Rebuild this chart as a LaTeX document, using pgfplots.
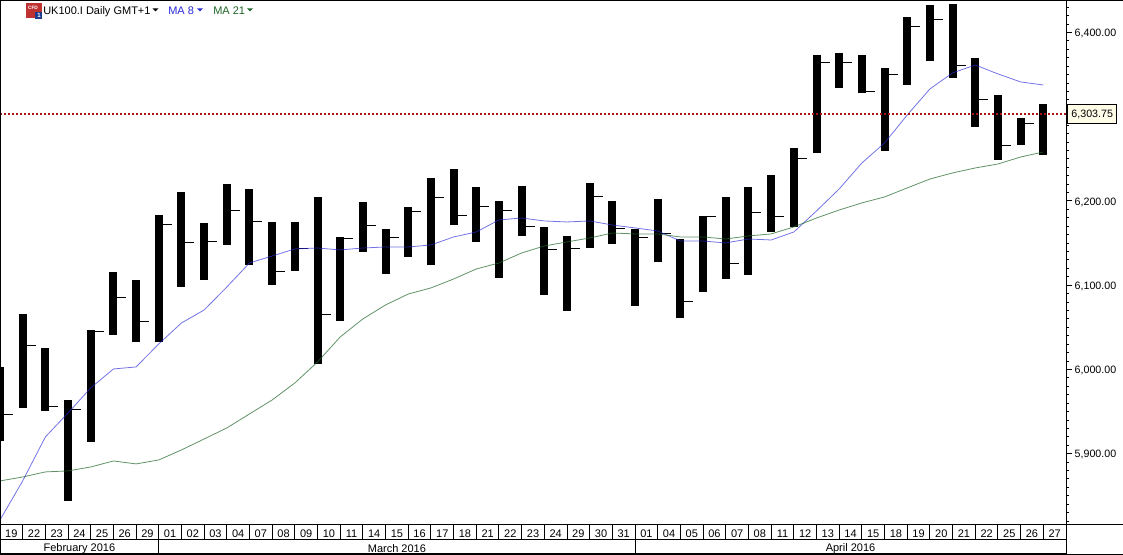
\documentclass[border=0pt]{standalone}
\usepackage{fontspec}
\setmainfont{Liberation Sans}
\usepackage{pgfplots}
\usepackage{pgfplotstable}
\pgfplotsset{compat=1.18}

% one screen pixel = 0.75pt
\definecolor{maeight}{RGB}{40,40,215}
\definecolor{matwentyone}{RGB}{30,100,40}
\definecolor{lastred}{RGB}{170,20,20}
\definecolor{labelbg}{RGB}{255,253,232}
\definecolor{iconred}{RGB}{190,50,50}
\definecolor{iconblue}{RGB}{30,60,140}

\pgfplotstableread{
i  high    low     close   ma8     ma21
0  6003.0  5915.2  5946.0  5821.4  5867.7
1  6065.9  5954.3  6027.9  5867.7  5872.4
2  6025.5  5950.8  5956.1  5919.9  5878.4
3  5963.8  5843.9  5952.0  5948.4  5879.6
4  6046.9  5914.0  6045.1  5978.1  5884.3
5  6115.8  6041.0  6084.9  6000.6  5891.4
6  6106.3  6032.7  6056.4  6003.0  5887.9
7  6183.4  6032.7  6171.5  6030.3  5892.6
8  6210.7  6097.9  6150.2  6055.2  5904.5
9  6173.9  6106.3  6152.5  6070.6  5917.5
10 6220.2  6147.8  6188.2  6097.9  5930.6
11 6214.3  6124.1  6175.1  6126.4  5947.2
12 6175.1  6100.3  6115.8  6134.7  5963.8
13 6175.1  6116.9  6143.1  6143.1  5984.0
14 6204.8  6006.6  6064.7  6144.2  6008.9
15 6157.3  6057.6  6154.9  6141.9  6038.6
16 6198.8  6139.5  6170.4  6144.2  6060.0
17 6166.8  6113.4  6156.1  6145.4  6076.6
18 6192.9  6133.6  6187.0  6145.4  6089.6
19 6227.3  6124.1  6203.6  6147.8  6096.8
20 6238.0  6171.5  6182.2  6157.3  6107.4
21 6216.6  6151.4  6192.9  6163.2  6119.3
22 6200.0  6108.6  6188.2  6177.5  6126.4
23 6217.8  6158.5  6169.2  6179.8  6138.3
24 6169.2  6088.5  6141.9  6176.3  6146.6
25 6158.5  6069.5  6143.1  6175.1  6151.4
26 6221.4  6144.2  6204.8  6176.3  6156.1
27 6200.0  6149.0  6166.8  6171.5  6162.0
28 6166.8  6075.4  6156.1  6168.0  6160.9
29 6202.4  6127.6  6160.9  6164.4  6160.9
30 6154.9  6061.2  6080.2  6152.5  6157.3
31 6182.2  6092.0  6181.0  6152.5  6157.3
32 6204.8  6107.4  6125.3  6150.2  6154.9
33 6216.6  6112.2  6185.8  6154.9  6158.5
34 6230.9  6163.2  6181.0  6153.7  6160.9
35 6262.9  6169.2  6249.9  6163.2  6169.2
36 6373.3  6257.0  6363.8  6188.2  6179.8
37 6375.7  6334.1  6363.8  6214.3  6189.3
38 6373.3  6328.2  6329.4  6245.1  6197.7
39 6357.9  6259.4  6349.6  6268.9  6204.8
40 6418.4  6337.7  6406.6  6302.1  6215.5
41 6432.7  6366.2  6416.0  6333.0  6226.1
42 6433.9  6346.0  6360.3  6352.0  6233.3
43 6369.8  6287.9  6319.9  6361.4  6239.2
44 6325.8  6248.7  6265.3  6350.8  6243.9
45 6298.5  6266.5  6291.4  6341.3  6252.2
46 6315.2  6254.6  nan     6337.7  6258.2
}\prices

\pgfplotsset{
  strip/.style={
    scale only axis, width=799.5pt,
    xmin=0, xmax=47, ymin=0, ymax=1,
    ytick=\empty,
    axis line style={line width=0.75pt},
    xtick pos=lower,
    major x tick style={draw=none},
    major tick length=0pt,
    minor x tick style={draw=none},
    xminorgrids=true,
    minor x grid style={black,line width=0.75pt},
    xticklabel style={font=\fontsize{8.25}{10}\selectfont,anchor=center,inner sep=0pt},
  },
}

\begin{document}
\begin{tikzpicture}
\path[use as bounding box] (0,0) rectangle (842.25pt,416.25pt);

\begin{axis}[
  name=main,
  at={(0pt,22.5pt)}, anchor=south west,
  scale only axis, width=799.5pt, height=393pt,
  xmin=0, xmax=47, ymin=5815.4, ymax=6437.4,
  xtick=\empty,
  ytick={5900,6000,6100,6200,6300,6400},
  yticklabels={5{,}900.00,6{,}000.00,6{,}100.00,6{,}200.00,,6{,}400.00},
  minor ytick={5820,5830,5840,5850,5860,5870,5880,5890,
    5910,5920,5930,5940,5950,5960,5970,5980,5990,
    6010,6020,6030,6040,6050,6060,6070,6080,6090,
    6110,6120,6130,6140,6150,6160,6170,6180,6190,
    6210,6220,6230,6240,6250,6260,6270,6280,6290,
    6310,6320,6330,6340,6350,6360,6370,6380,6390,
    6410,6420,6430},
  ytick pos=right,
  yticklabel pos=right,
  tick align=outside,
  major tick length=4.5pt,
  minor tick length=2.6pt,
  tick style={black,line width=0.75pt},
  minor tick style={black,line width=0.75pt},
  axis line style={line width=0.75pt},
  yticklabel style={font=\fontsize{8}{10}\selectfont,inner sep=0pt,xshift=1.8pt,yshift=-0.9pt},
  unbounded coords=discard,
]
% close ticks, right of each bar
\addplot[draw=none, forget plot,
  error bars/.cd, x dir=plus, x fixed=0.573, error mark=none,
  error bar style={black,line width=0.75pt}]
  table[x=i, y=close] {\prices};
% high-low bars
\addplot[draw=none, forget plot,
  error bars/.cd, y dir=plus, y explicit, error mark=none,
  error bar style={black,line width=6pt}]
  table[x=i, y=low, y error plus expr=\thisrow{high}-\thisrow{low}] {\prices};
% moving averages
\addplot[maeight, line width=0.6pt, opacity=0.65] table[x=i, y=ma8] {\prices};
\addplot[matwentyone, line width=0.6pt, opacity=0.7] table[x=i, y=ma21] {\prices};
% last price
\addplot[lastred, line width=1.5pt, dash pattern=on 1.5pt off 1.5pt]
  coordinates {(0,6303.75) (47,6303.75)};
\end{axis}

% day row
\begin{axis}[
  strip,
  at={(0pt,11.25pt)}, anchor=south west, height=11.25pt,
  xtick={0.5,1.5,2.5,3.5,4.5,5.5,6.5,7.5,8.5,9.5,10.5,11.5,12.5,13.5,14.5,15.5,
         16.5,17.5,18.5,19.5,20.5,21.5,22.5,23.5,24.5,25.5,26.5,27.5,28.5,29.5,30.5,31.5,
         32.5,33.5,34.5,35.5,36.5,37.5,38.5,39.5,40.5,41.5,42.5,43.5,44.5,45.5,46.5},
  xticklabels={19,22,23,24,25,26,29,
    01,02,03,04,07,08,09,10,11,14,15,16,17,18,21,22,23,24,29,30,31,
    01,04,05,06,07,08,11,12,13,14,15,18,19,20,21,22,25,26,27},
  minor xtick={1,2,...,46},
  xticklabel style={yshift=4.9pt},
]
\end{axis}

% month row
\begin{axis}[
  strip,
  at={(0pt,0.75pt)}, anchor=south west, height=10.5pt,
  xtick={3.5,17.5,37.5},
  xticklabels={February 2016,March 2016,April 2016},
  minor xtick={7,28},
  xticklabel style={yshift=4.2pt},
]
\end{axis}

% chrome around the plot, in screen pixels from the top left
\begin{scope}[x=0.75pt,y=-0.75pt,yshift=416.25pt]
  \draw[line width=0.75pt] (0,0.5) -- (1123,0.5);
  \draw[line width=0.75pt] (0.5,0) -- (0.5,555);
  \draw[line width=0.75pt] (1066,525) -- (1123,525);
  \draw[line width=0.75pt] (1066,525) -- (1066,555);
  \draw[line width=0.75pt] (0,554.5) -- (1123,554.5);
  % current price box
  \node[draw=black, line width=0.75pt, fill=labelbg, anchor=west, inner sep=0pt,
        minimum width=37pt, minimum height=14pt,
        font=\fontsize{8}{10}\selectfont] at (1067,114) {6,303.75};
  % header
  \fill[iconred] (26,3) rectangle (42,18);
  \fill[iconblue] (35,12) rectangle (42,19);
  \node[text=white, font=\fontsize{3.6}{4}\selectfont\bfseries, inner sep=0pt] at (33,8) {CFD};
  \node[text=white, font=\fontsize{4.5}{5}\selectfont\bfseries, inner sep=0pt] at (39,15.5) {1};
  \node[anchor=base west, inner sep=0pt, font=\fontsize{8.25}{10}\selectfont] at (43,14.5) {UK100.I Daily GMT+1};
  \fill[black] (152.5,8.5) -- (158.5,8.5) -- (155.5,11.5) -- cycle;
  \node[anchor=base west, inner sep=0pt, text=maeight, font=\fontsize{8.25}{10}\selectfont] at (168,14.5) {MA 8};
  \fill[maeight] (197,8.5) -- (203,8.5) -- (200,11.5) -- cycle;
  \node[anchor=base west, inner sep=0pt, text=matwentyone, font=\fontsize{8.25}{10}\selectfont] at (213,14.5) {MA 21};
  \fill[matwentyone] (247,8.5) -- (253,8.5) -- (250,11.5) -- cycle;
\end{scope}
\end{tikzpicture}
\end{document}
